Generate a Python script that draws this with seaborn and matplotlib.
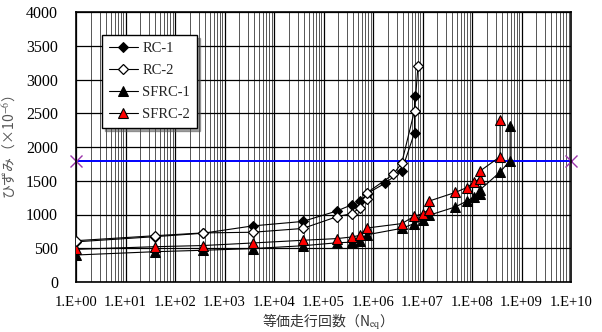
import numpy as np
import pandas as pd
import matplotlib
matplotlib.use("Agg")
import matplotlib.pyplot as plt
import seaborn as sns
from matplotlib.ticker import FixedLocator, LogLocator, NullFormatter, FixedFormatter

# ---- data ----
rc1_n = [1, 40, 363, 3715, 38000, 186000, 372000, 550000, 760000, 1.74e6, 3.8e6, 6.9e6, 6.9e6]
rc1_v = [595, 672, 722, 831, 897, 1052, 1144, 1193, 1310, 1462, 1649, 2211, 2760]

rc2_n = [1, 40, 363, 3715, 38000, 186000, 372000, 550000, 760000, 760000, 2.57e6, 3.8e6, 6.9e6, 8.1e6]
rc2_v = [612, 686, 727, 737, 793, 967, 1013, 1102, 1234, 1323, 1595, 1762, 2540, 3199]

sfrc1_n = [1, 40, 363, 3715, 38000, 186000, 372000, 550000, 760000, 3.8e6, 6.8e6, 1.0e7,
           1.35e7, 4.6e7, 7.8e7, 1.1e8, 1.45e8, 1.45e8, 3.7e8, 5.9e8, 5.9e8]
sfrc1_v = [400, 449, 470, 495, 537, 581, 590, 605, 700, 795, 865, 925,
           988, 1112, 1198, 1260, 1306, 1365, 1630, 1800, 2310]

sfrc2_n = [1, 40, 363, 3715, 38000, 186000, 372000, 550000, 760000, 3.8e6, 6.8e6, 1.0e7,
           1.35e7, 1.35e7, 4.6e7, 7.8e7, 1.1e8, 1.45e8, 1.45e8, 3.7e8, 3.7e8]
sfrc2_v = [484, 523, 540, 578, 618, 643, 667, 692, 800, 865, 973, 1013,
           1072, 1198, 1327, 1398, 1478, 1532, 1643, 1858, 2396]

limit_n = [1, 1e10]
limit_v = [1800, 1800]

series_names = ["RC-1", "RC-2", "SFRC-1", "SFRC-2"]
x_tick_labels = ["1.E+%02d" % i for i in range(11)]
y_ticks = [0, 500, 1000, 1500, 2000, 2500, 3000, 3500, 4000]

# ---- style ----
sns.set_style("white")
plt.rcParams['font.family'] = ['Liberation Serif', 'Noto Sans CJK JP', 'DejaVu Sans']
plt.rcParams['mathtext.fontset'] = 'stix'

fig = plt.figure(figsize=(6.02, 3.32), dpi=100)
ax = fig.add_axes([76/602, 1-282/332, (571-76)/602, (282-12)/332])
ax.set_xscale("log")

# grid
ax.set_xlim(1, 1e10)
ax.set_ylim(0, 4000)
ax.xaxis.set_major_locator(FixedLocator([10.0**i for i in range(11)]))
ax.xaxis.set_major_formatter(FixedFormatter(x_tick_labels))
ax.xaxis.set_minor_locator(LogLocator(base=10, subs=np.arange(2, 10), numticks=100))
ax.xaxis.set_minor_formatter(NullFormatter())
ax.set_yticks(y_ticks)
ax.grid(True, which="major", axis="both", color="black", linewidth=0.9)
ax.grid(True, which="minor", axis="x", color="#555555", linewidth=0.7)
ax.set_axisbelow(True)

common = dict(ax=ax, sort=False, estimator=None, color="black", linewidth=0.8)
sns.lineplot(x=rc1_n, y=rc1_v, marker="D", markersize=5.5, markerfacecolor="black",
             markeredgecolor="black", label=series_names[0], zorder=4, **common)
sns.lineplot(x=rc2_n, y=rc2_v, marker="D", markersize=5.5, markerfacecolor="white",
             markeredgecolor="black", markeredgewidth=0.9, label=series_names[1], zorder=5, **common)
sns.lineplot(x=sfrc1_n, y=sfrc1_v, marker="^", markersize=7.5, markerfacecolor="black",
             markeredgecolor="black", label=series_names[2], zorder=3, **common)
sns.lineplot(x=sfrc2_n, y=sfrc2_v, marker="^", markersize=7.5, markerfacecolor="red",
             markeredgecolor="black", markeredgewidth=0.8, label=series_names[3], zorder=4, **common)
sns.lineplot(x=limit_n, y=limit_v, ax=ax, sort=False, estimator=None, color="blue",
             linewidth=1.4, marker="x", markersize=8, markeredgecolor="#9933aa",
             markeredgewidth=1.0, zorder=2, legend=False, clip_on=False)

for s in ax.spines.values():
    s.set_color("black")
    s.set_linewidth(1.2)
    s.set_visible(True)

ax.tick_params(axis="both", which="both", length=0, colors="black")
ax.tick_params(axis="x", pad=10, labelsize=10.5)
ax.tick_params(axis="y", pad=13, labelsize=11.5)

ax.set_xlabel("等価走行回数（N$_{\\mathrm{eq}}$）", fontsize=10, labelpad=2,
              family=['Noto Sans CJK JP', 'DejaVu Sans'], color="#333333")
ax.set_ylabel("ひずみ（×10$^{-6}$）", fontsize=10, labelpad=6,
              family=['Noto Sans CJK JP', 'DejaVu Sans'], color="#555555")

leg = ax.legend(loc="upper left", bbox_to_anchor=(0.053, 0.915), frameon=True, shadow=True,
                fancybox=False, fontsize=10.5, handlelength=2.0, borderpad=0.45,
                labelspacing=0.62, handletextpad=0.3, borderaxespad=0)
leg.get_frame().set_edgecolor("black")
leg.get_frame().set_linewidth(1.0)
leg.get_frame().set_facecolor("white")
leg.get_frame().set_alpha(1)
leg.set_zorder(10)

fig.savefig("out.png", dpi=100)
